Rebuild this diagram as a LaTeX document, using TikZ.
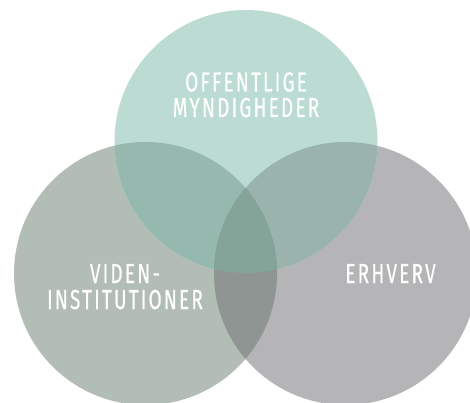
\documentclass[tikz,border=0pt]{standalone}
\usepackage{fontspec}
\setmainfont{Fira Sans}[FakeStretch=0.69,LetterSpace=8,FakeBold=0.4]
\definecolor{ctop}{HTML}{BBDBD3}
\definecolor{cleft}{HTML}{B2BDB5}
\definecolor{cright}{HTML}{B5B5B7}
\definecolor{ctl}{HTML}{96B9AF}
\definecolor{ctr}{HTML}{9AB3AD}
\definecolor{clr}{HTML}{8F9592}
\definecolor{call}{HTML}{84A399}
\tikzset{
  lbl/.style={text=white, font=\fontsize{27.5}{30}\selectfont, align=center, inner sep=0pt, anchor=base},
}
\begin{document}
\begin{tikzpicture}[x=1pt,y=-1pt]
\useasboundingbox (0,0) rectangle (470,403);
\begin{scope}
\clip (0,0) rectangle (470,403);
\def\rr{131.5}
\coordinate (T) at (246,141.5);
\coordinate (L) at (145.5,273.5);
\coordinate (R) at (345.5,273.5);
\fill[cleft] (L) circle (\rr);
\fill[cright] (R) circle (\rr);
\fill[ctop] (T) circle (\rr);
\begin{scope}
  \clip (T) circle (\rr);
  \fill[ctl] (L) circle (\rr);
  \fill[ctr] (R) circle (\rr);
\end{scope}
\begin{scope}
  \clip (L) circle (\rr);
  \fill[clr] (R) circle (\rr);
  \clip (R) circle (\rr);
  \fill[call] (T) circle (\rr);
\end{scope}
\end{scope}
\node[lbl] (t1) at (246,91.5) {OFFENTLIGE};
\node[lbl] (t2) at (246,117) {MYNDIGHEDER};
\node[lbl] (l1) at (125,283) {VIDEN-};
\node[lbl] (l2) at (125,309) {INSTITUTIONER};
\node[lbl] (r1) at (390.5,283) {ERHVERV};
\end{tikzpicture}
\end{document}
